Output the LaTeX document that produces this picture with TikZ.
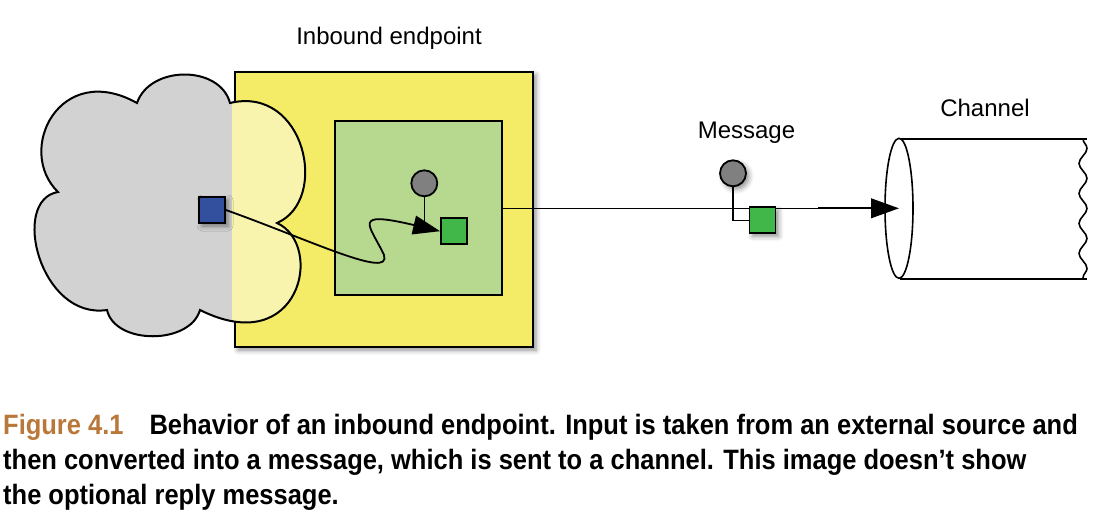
\documentclass[tikz,border=0pt]{standalone}
\usepackage{fontspec}
\setmainfont{Liberation Sans}
\newfontfamily\capfont[FakeStretch=0.91]{Liberation Sans}
\usetikzlibrary{arrows.meta,decorations.pathmorphing,shadows.blur,positioning}
\definecolor{cloudgray}{HTML}{D2D2D2}
\definecolor{cloudlight}{HTML}{F8F4AE}
\definecolor{epyellow}{HTML}{F4EC66}
\definecolor{epgreen}{HTML}{B6D88F}
\definecolor{msggreen}{HTML}{41B649}
\definecolor{srcblue}{HTML}{33509F}
\definecolor{hdrgray}{HTML}{808080}
\definecolor{figbrown}{HTML}{B9773A}

\begin{document}
\begin{tikzpicture}[x=1pt,y=-1pt,
    outline/.style={draw=black,line width=1.8pt},
    softshadow/.style={blur shadow={shadow xshift=3pt,shadow yshift=-3pt,shadow blur radius=5pt,shadow opacity=45}},
    box/.style={outline,rectangle,inner sep=0pt,minimum size=26pt},
    head/.style={outline,circle,fill=hdrgray,inner sep=0pt,minimum size=26pt},
    tip/.style={-{Triangle[length=#1,width=0.7*#1,fill=black]}},
    lbl/.style={font=\fontsize{24}{28}\selectfont,inner sep=0pt},
    capline/.style={font=\capfont\bfseries\fontsize{28}{32}\selectfont,anchor=base west,inner sep=0pt}]
  \useasboundingbox (0,0) rectangle (1113,517);
  % external source, lobe by lobe
  \fill[cloudgray] (58,192) .. controls (15,150) and (60,60) .. (137,103)
    .. controls (150,65) and (220,65) .. (230,103)
    .. controls (305,85) and (330,200) .. (277,223)
    .. controls (325,245) and (300,360) .. (200,310)
    .. controls (190,345) and (115,345) .. (107,310)
    .. controls (40,320) and (10,200) .. (58,192) -- cycle;
  \node[outline,fill=epyellow,softshadow,minimum width=298pt,minimum height=275pt,inner sep=0pt] (endpoint) at (384,209.5) {};
  \begin{scope}
    \clip (232,69) rectangle (536,350);
    \fill[cloudlight] (230,103) .. controls (305,85) and (330,200) .. (277,223)
      .. controls (325,245) and (300,360) .. (200,310) -- (200,103) -- cycle;
  \end{scope}
  \node[outline,fill=epgreen,minimum width=167pt,minimum height=174pt,inner sep=0pt] (inner) at (418.5,208) {};
  \node[box,fill=srcblue,softshadow] (src) at (212,210) {};
  \node[head] (ihead) at (424.3,183.3) {};
  \node[box,fill=msggreen] (ibody) at (454,231.2) {};
  \draw[line width=1.6pt] (ihead.south) -- (ihead.south |- ibody.west);
  \draw[line width=1.8pt,tip=27pt] (src.east)
    .. controls (310,240) and (392,280) .. (384,255)
    .. controls (370,225) and (350,210) .. (ibody.west);
  % message on its way to the channel
  \coordinate (thick) at (818,208.3);
  \coordinate (chan) at (899,208.3);
  \draw[line width=1pt] (inner.east |- thick) -- (thick);
  \draw[line width=2pt,tip=28pt] (thick) -- (chan);
  \node[head,softshadow] (mhead) at (733,173.3) {};
  \node[box,fill=msggreen,softshadow] (mbody) at (762.5,220.3) {};
  \draw[line width=1.6pt] (mhead.south) |- (mbody.west);
  % channel
  \draw[line width=1.6pt] (900,139) -- (1087,139);
  \draw[line width=1.6pt] (900,279) -- (1087,279);
  \draw[line width=1.6pt] (chan) ellipse [x radius=14pt,y radius=70pt];
  \draw[line width=1.6pt,decorate,decoration={snake,amplitude=4pt,segment length=30pt}] (1083,139) -- (1083,279);
  % labels
  \node[lbl] (eplabel) at (389,38) {Inbound endpoint};
  \node[lbl] (chlabel) at (985,108) {Channel};
  \node[lbl] (msglabel) at (746.5,133) {Message};
  % caption
  \node[capline] (cap1) at (3,434) {{\color{figbrown}Figure 4.1}\hspace{26pt}Behavior of an inbound endpoint. Input is taken from an external source and};
  \node[capline] (cap2) at (3,469) {then converted into a message, which is sent to a channel. This image doesn’t show};
  \node[capline] (cap3) at (3,504) {the optional reply message.};
  % cloud outline on top
  \draw[black,line width=2pt] (58,192) .. controls (15,150) and (60,60) .. (137,103)
    .. controls (150,65) and (220,65) .. (230,103)
    .. controls (305,85) and (330,200) .. (277,223)
    .. controls (325,245) and (300,360) .. (200,310)
    .. controls (190,345) and (115,345) .. (107,310)
    .. controls (40,320) and (10,200) .. (58,192) -- cycle;
\end{tikzpicture}
\end{document}
